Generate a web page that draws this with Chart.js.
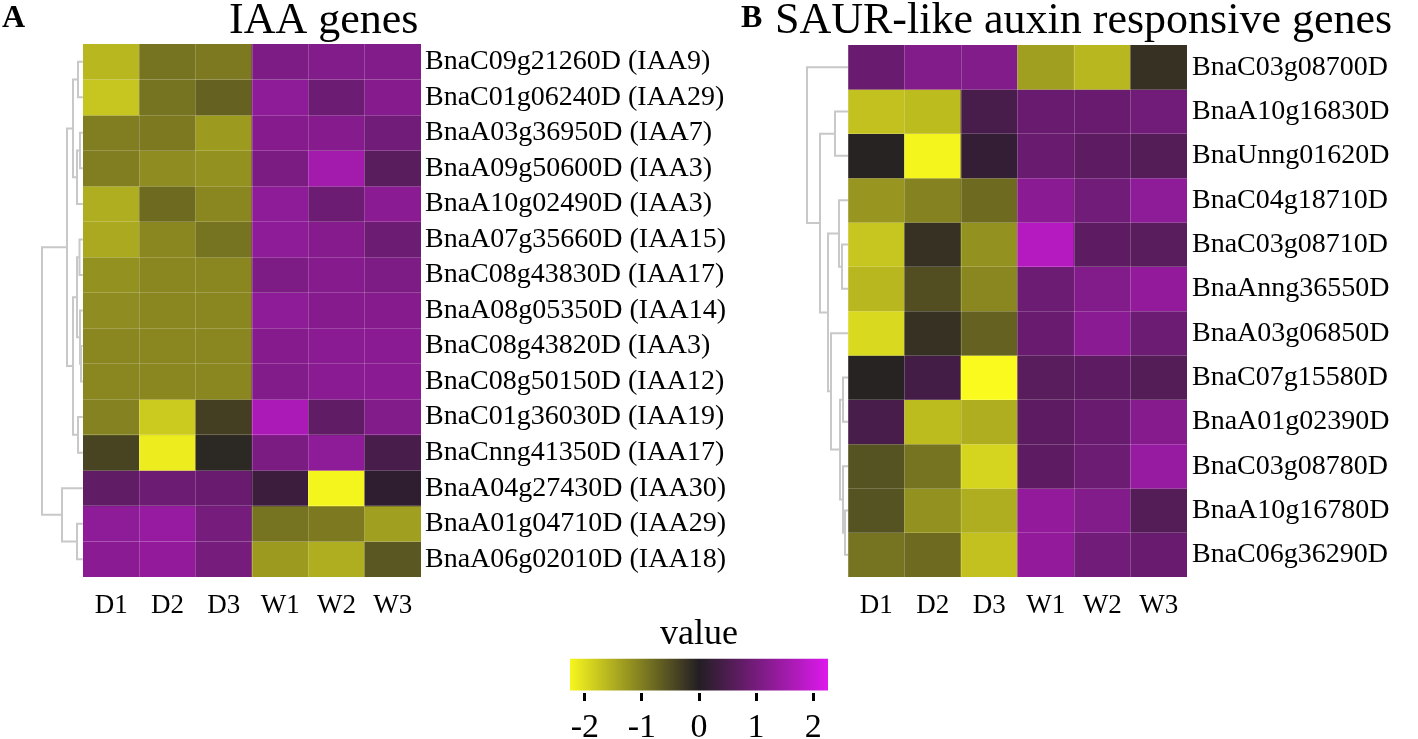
<!DOCTYPE html>
<html>
<head>
<meta charset="utf-8">
<script src="https://cdn.jsdelivr.net/npm/chart.js@4.4.1/dist/chart.umd.min.js"></script>
<style>
  html, body { margin: 0; padding: 0; background: #fff; }
  body { width: 1418px; height: 739px; position: relative; overflow: hidden; }
  canvas { position: absolute; }
</style>
</head>
<body>
<canvas id="treeA" width="84" height="650" style="left:0;top:0"></canvas>
<canvas id="treeB" width="59" height="650" style="left:790px;top:0"></canvas>
<canvas id="chartA" width="740" height="650" style="left:0;top:0"></canvas>
<canvas id="chartB" width="688" height="650" style="left:730px;top:0"></canvas>
<canvas id="legend" width="328" height="129" style="left:540px;top:610px"></canvas>
<script>
// --- data -------------------------------------------------------------
const samples = ['D1', 'D2', 'D3', 'W1', 'W2', 'W3'];

const genesA = [
    'BnaC09g21260D (IAA9)', 'BnaC01g06240D (IAA29)', 'BnaA03g36950D (IAA7)',
    'BnaA09g50600D (IAA3)', 'BnaA10g02490D (IAA3)', 'BnaA07g35660D (IAA15)',
    'BnaC08g43830D (IAA17)', 'BnaA08g05350D (IAA14)', 'BnaC08g43820D (IAA3)',
    'BnaC08g50150D (IAA12)', 'BnaC01g36030D (IAA19)', 'BnaCnng41350D (IAA17)',
    'BnaA04g27430D (IAA30)', 'BnaA01g04710D (IAA29)', 'BnaA06g02010D (IAA18)'
];
// z-scores, one row per gene, columns D1 D2 D3 W1 W2 W3
const valuesA = [
    [-1.60, -0.90, -0.95, 1.10, 1.15, 1.15],
    [-1.75, -0.90, -0.70, 1.30, 0.90, 1.20],
    [-1.00, -0.95, -1.30, 1.20, 1.20, 0.95],
    [-1.00, -1.15, -1.20, 1.05, 1.55, 0.65],
    [-1.50, -0.80, -1.10, 1.30, 0.90, 1.25],
    [-1.45, -1.10, -0.90, 1.30, 1.20, 0.90],
    [-1.20, -1.10, -1.10, 1.10, 1.20, 1.10],
    [-1.15, -1.10, -1.10, 1.30, 1.20, 1.20],
    [-1.10, -1.10, -1.10, 1.20, 1.25, 1.25],
    [-1.10, -1.10, -1.10, 1.15, 1.25, 1.25],
    [-1.05, -1.80, -0.35, 1.65, 0.75, 1.15],
    [-0.40, -2.15, -0.10, 1.05, 1.30, 0.45],
    [0.75, 0.90, 0.85, 0.30, -2.25, 0.15],
    [1.30, 1.40, 1.00, -0.90, -0.95, -1.35],
    [1.25, 1.35, 1.00, -1.30, -1.50, -0.60]
];
// row dendrogram, hclust style: negative = leaf (row), positive = earlier merge
const mergeA = [
    [-1, -2], [-3, -4], [2, -5], [1, 3], [-9, -10], [-8, 5], [-6, -7],
    [7, 6], [-11, -12], [8, 9], [4, 10], [-14, -15], [-13, 12], [11, 13]
];
const heightA = [0.5, 0.3, 0.6, 1.0, 0.2, 0.3, 0.35, 0.6, 0.5, 1.0, 1.6, 0.6, 2.1, 4.1];

const genesB = [
    'BnaC03g08700D', 'BnaA10g16830D', 'BnaUnng01620D', 'BnaC04g18710D',
    'BnaC03g08710D', 'BnaAnng36550D', 'BnaA03g06850D', 'BnaC07g15580D',
    'BnaA01g02390D', 'BnaC03g08780D', 'BnaA10g16780D', 'BnaC06g36290D'
];
const valuesB = [
    [0.85, 1.15, 1.15, -1.35, -1.60, -0.20],
    [-1.70, -1.65, 0.45, 0.85, 0.85, 0.95],
    [-0.05, -2.25, 0.20, 0.85, 0.70, 0.60],
    [-1.25, -1.05, -0.80, 1.25, 0.95, 1.30],
    [-1.75, -0.20, -1.20, 1.75, 0.70, 0.65],
    [-1.60, -0.50, -1.10, 0.90, 1.15, 1.35],
    [-1.95, -0.20, -0.70, 0.85, 1.25, 0.90],
    [-0.05, 0.40, -2.30, 0.65, 0.70, 0.60],
    [0.45, -1.65, -1.50, 0.70, 0.85, 1.20],
    [-0.55, -0.90, -1.90, 0.70, 0.90, 1.40],
    [-0.55, -1.20, -1.50, 1.35, 1.15, 0.60],
    [-0.90, -0.80, -1.70, 1.35, 0.95, 0.85]
];
const mergeB = [
    [-2, -3], [-5, -6], [-4, 2], [-8, -9], [-11, -12], [-10, 5], [4, 6],
    [-7, 7], [3, 8], [1, 9], [-1, 10]
];
const heightB = [1.3, 0.6, 0.9, 0.5, 0.3, 0.5, 0.8, 1.7, 2.0, 2.8, 4.1];

const legendTicks = [-2, -1, 0, 1, 2];
const legendMin = -2.26;
const legendMax = 2.26;

// --- style ------------------------------------------------------------
const SERIF = '"Liberation Serif", "Times New Roman", serif';
const CELL_LINE = 'rgba(255,255,255,0.2)';
const TREE_LINE = '#c8c8c8';
const LOW = [250, 250, 30];
const MID = [35, 30, 35];
const HIGH = [225, 25, 240];

function valueColor(v) {
    const f = Math.min(Math.abs(v) / 2.3, 1);
    const end = v < 0 ? LOW : HIGH;
    const c = MID.map((m, i) => Math.round(m + (end[i] - m) * f));
    return `rgb(${c[0]},${c[1]},${c[2]})`;
}

// one floating bar per cell, a dataset per row
function cellDatasets(values) {
    return values.map((row, r) => ({
        data: row.map(() => [r, r + 1]),
        backgroundColor: row.map(valueColor),
        borderWidth: 0,
        grouped: false,
        barPercentage: 1,
        categoryPercentage: 1
    }));
}

// one U-shaped line per merge
function treeDatasets(merge, height) {
    const nodeY = [];
    const yOf = k => (k < 0 ? -k - 0.5 : nodeY[k - 1]);
    const hOf = k => (k < 0 ? 0 : height[k - 1]);
    return merge.map(([a, b], i) => {
        const ya = yOf(a), yb = yOf(b), h = height[i];
        nodeY.push((ya + yb) / 2);
        return {
            data: [{ x: hOf(a), y: ya }, { x: h, y: ya }, { x: h, y: yb }, { x: hOf(b), y: yb }],
            showLine: true,
            borderColor: TREE_LINE,
            borderWidth: 2,
            pointRadius: 0,
            tension: 0,
            clip: false
        };
    });
}

const panelText = {
    id: 'panelText',
    afterDraw(chart, args, opts) {
        const ctx = chart.ctx;
        ctx.save();
        ctx.fillStyle = '#000';
        ctx.textBaseline = 'alphabetic';
        ctx.textAlign = 'left';
        ctx.font = `bold 32px ${SERIF}`;
        ctx.fillText(opts.letter, opts.letterX, 27);
        ctx.font = `44px ${SERIF}`;
        ctx.fillText(opts.title, opts.titleX, 33);
        ctx.restore();
    }
};

function heatmap(id, genes, values, box) {
    new Chart(document.getElementById(id), {
        type: 'bar',
        data: { labels: samples, datasets: cellDatasets(values) },
        options: {
            responsive: false,
            animation: false,
            events: [],
            layout: { padding: { left: box.left, top: box.top, right: 0, bottom: 0 } },
            plugins: {
                legend: { display: false },
                tooltip: { enabled: false },
                panelText: { letter: box.letter, letterX: box.letterX, title: box.title, titleX: box.titleX }
            },
            scales: {
                x: {
                    type: 'category',
                    offset: true,
                    grid: { offset: true, z: 1, color: CELL_LINE, drawTicks: false },
                    border: { display: false },
                    ticks: { font: { family: SERIF, size: 27 }, color: '#000', padding: 13 },
                    afterFit: s => { s.height = box.bottom; }
                },
                y: { type: 'linear', min: 0, max: genes.length, reverse: true, display: false },
                y2: {
                    type: 'category',
                    labels: genes,
                    position: 'right',
                    offset: true,
                    grid: { offset: true, z: 1, color: CELL_LINE, drawTicks: false },
                    border: { display: false },
                    ticks: { font: { family: SERIF, size: 28 }, color: '#000', padding: box.labelPad, autoSkip: false },
                    afterFit: s => { s.width = box.right; }
                }
            }
        },
        plugins: [panelText]
    });
}

function dendrogram(id, rows, merge, height, box) {
    new Chart(document.getElementById(id), {
        type: 'scatter',
        data: { datasets: treeDatasets(merge, height) },
        options: {
            responsive: false,
            animation: false,
            events: [],
            layout: { padding: { left: box.left, right: 1, top: box.top, bottom: box.bottom } },
            plugins: { legend: { display: false }, tooltip: { enabled: false } },
            scales: {
                x: { type: 'linear', min: 0, max: Math.max(...height), reverse: true, display: false },
                y: { type: 'linear', min: 0, max: rows, reverse: true, display: false }
            }
        }
    });
}

dendrogram('treeA', genesA.length, mergeA, heightA, { left: 42, top: 44, bottom: 73 });
dendrogram('treeB', genesB.length, mergeB, heightB, { left: 17, top: 45, bottom: 73 });

heatmap('chartA', genesA, valuesA,
    { left: 83, top: 44, right: 319, bottom: 73, labelPad: 4, letter: 'A', letterX: 2, title: 'IAA genes', titleX: 229 });
heatmap('chartB', genesB, valuesB,
    { left: 118, top: 45, right: 231, bottom: 73, labelPad: 5, letter: 'B', letterX: 11, title: 'SAUR-like auxin responsive genes', titleX: 45 });

// --- colour key -------------------------------------------------------
new Chart(document.getElementById('legend'), {
    type: 'bar',
    data: {
        labels: ['value'],
        datasets: [{
            data: [[legendMin, legendMax]],
            backgroundColor(ctx) {
                const chart = ctx.chart;
                if (!chart.chartArea) return null;
                const xs = chart.scales.x;
                const g = chart.ctx.createLinearGradient(xs.getPixelForValue(legendMin), 0, xs.getPixelForValue(legendMax), 0);
                for (let i = 0; i <= 24; i++) {
                    g.addColorStop(i / 24, valueColor(legendMin + (legendMax - legendMin) * i / 24));
                }
                return g;
            },
            borderWidth: 0,
            barPercentage: 0.86,
            categoryPercentage: 1
        }]
    },
    options: {
        indexAxis: 'y',
        responsive: false,
        animation: false,
        events: [],
        layout: { padding: { left: 30, right: 40, top: 0, bottom: 0 } },
        plugins: {
            legend: { display: false },
            tooltip: { enabled: false },
            title: { display: true, text: 'value', color: '#000', font: { family: SERIF, size: 36, weight: 'normal' }, padding: { top: 3, bottom: 0 } }
        },
        scales: {
            x: {
                type: 'linear',
                min: legendMin,
                max: legendMax,
                afterBuildTicks: s => { s.ticks = legendTicks.map(v => ({ value: v })); },
                ticks: { font: { family: SERIF, size: 34 }, color: '#000', padding: 7 },
                grid: { drawOnChartArea: false, drawTicks: true, tickLength: 8, tickColor: '#000', tickWidth: 3 },
                border: { display: false },
                afterFit: s => { s.height = 46; }
            },
            y: { display: false }
        }
    }
});
</script>
</body>
</html>
